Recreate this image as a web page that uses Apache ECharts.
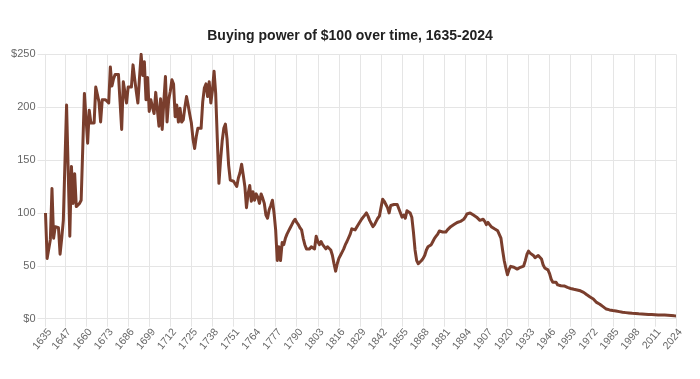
<!DOCTYPE html>
<html>
<head>
<meta charset="utf-8">
<script src="https://cdn.jsdelivr.net/npm/echarts@6/dist/echarts.min.js"></script>
<style>
html,body{margin:0;padding:0;background:#fff;}
#chart{width:700px;height:379px;}
</style>
</head>
<body>
<div id="chart"></div>
<script>
const startYear = 1635;
const endYear = 2024;
const titleText = 'Buying power of $100 over time, 1635-2024';
const yTicks = [0, 50, 100, 150, 200, 250];

const values1635to1704 = [
  100,57,56,75,123,76,87,87,86,61,
  76,93,148,202,140,78,144,109,137,106,
  106,109,112,162,213,190,166,197,185,185,
  185,219,219,205,186,207,207,207,207,204,
  238,220,227,231,232,231,205,179,224,224,
  204,219,219,219,240,227,215,204,228,250,
  230,243,207,228,196,207,200,194,214,213
];
const values1705to1774 = [
  182,208,179,205,229,186,207,215,226,222,
  191,202,186,199,186,188,200,210,202,193,
  185,170,161,172,180,180,180,205,218,222,
  210,224,204,216,234,213,170,128,150,168,
  180,184,170,145,131,130,130,129,125,133,
  138,146,136,125,105,118,126,111,120,112,
  118,115,109,118,114,109,98,95,103,107
];
const values1775to1844 = [
  112,100,84,55,68,55,72,70,76,80,
  83,86,89,92,94,91,89,86,84,76,
  70,66,65,66,68,67,66,78,73,70,
  73,70,71,66,68,67,65,60,52,45,
  52,57,60,63,66,70,73,74,80,85,
  84,84,85,89,90,94,96,98,100,97,
  93,90,87,89,92,95,97,105,113,111
];
const values1845to1914 = [
  108,105,100,107,106,108,108,108,108,100,
  96,98,95,102,101,100,96,82,65,55,
  52,51,55,57,60,65,68,68,70,73,
  76,78,80,83,82,82,82,82,84,85,
  87,88,89,90,91,92,92,93,94,96,
  99,100,100,100,98,97,96,95,93,93,
  94,92,89,91,89,87,86,85,83.9,83.1
];
const values1915to1964 = [
  82.3,76.2,64.9,55.0,48.0,41.6,46.4,49.5,48.6,48.6,
  47.5,46.9,47.8,48.6,48.6,49.8,54.7,60.7,63.9,62.0,
  60.7,59.8,57.7,58.9,59.8,59.4,56.5,51.0,48.0,47.2,
  46.2,42.6,37.3,34.5,34.9,34.5,32.0,31.4,31.1,30.9,
  31.0,30.6,29.6,28.8,28.6,28.1,27.8,27.5,27.2,26.8
];
const values1965to2024 = [
  26.4,25.6,24.9,23.9,22.6,21.4,20.5,19.9,18.7,16.9,
  15.4,14.6,13.7,12.7,11.4,10.1,9.1,8.6,8.3,8.0,
  7.7,7.6,7.3,7.0,6.7,6.4,6.1,5.9,5.75,5.6,
  5.45,5.3,5.18,5.1,4.99,4.83,4.69,4.62,4.52,4.4,
  4.25,4.12,4.01,3.86,3.87,3.81,3.69,3.62,3.57,3.51,
  3.51,3.46,3.39,3.31,3.25,3.21,3.07,2.84,2.73,2.65
];

const years = [];
for (let y = startYear; y <= endYear; y++) years.push(String(y));
const values = [].concat(values1635to1704, values1705to1774, values1775to1844,
  values1845to1914, values1915to1964, values1965to2024);

function showTick(index) {
  const yr = startYear + index;
  return index === 0 || (endYear - yr) % 13 === 0;
}

const gridColor = '#e5e5e5';
const labelColor = '#666';
const fontFamily = '"Liberation Sans", Arial, Helvetica, sans-serif';

const chart = echarts.init(document.getElementById('chart'), null, {renderer: 'canvas'});
chart.setOption({
  animation: false,
  backgroundColor: '#fff',
  title: {
    text: titleText,
    left: 'center',
    top: 29,
    padding: 0,
    textStyle: {fontSize: 14, fontWeight: 'bold', color: '#222', fontFamily: fontFamily}
  },
  grid: {left: 45.5, right: 24, top: 54.3, bottom: 60.3},
  xAxis: {
    type: 'category',
    data: years,
    boundaryGap: false,
    axisLine: {show: true, lineStyle: {color: gridColor, width: 1}},
    axisTick: {show: true, length: 8, interval: showTick, lineStyle: {color: gridColor}},
    splitLine: {show: true, interval: showTick, lineStyle: {color: gridColor, width: 1}},
    axisLabel: {
      interval: showTick,
      rotate: 50,
      margin: 8,
      align: 'right',
      verticalAlign: 'top',
      color: labelColor,
      fontSize: 10.5,
      fontFamily: fontFamily,
      hideOverlap: false
    }
  },
  yAxis: {
    type: 'value',
    min: yTicks[0],
    max: yTicks[yTicks.length - 1],
    interval: 50,
    axisLine: {show: true, lineStyle: {color: gridColor}},
    axisTick: {show: true, length: 8, lineStyle: {color: gridColor}},
    splitLine: {show: true, lineStyle: {color: gridColor}},
    axisLabel: {
      margin: 10,
      color: labelColor,
      fontSize: 11,
      fontFamily: fontFamily,
      formatter: function (v) { return (v === yTicks[0] || v === yTicks[yTicks.length - 1]) ? '$' + v : String(v); }
    }
  },
  series: [{
    type: 'line',
    data: values,
    showSymbol: false,
    symbol: 'none',
    smooth: false,
    lineStyle: {color: '#7a3e2d', width: 3, join: 'round'},
    itemStyle: {color: '#7a3e2d'}
  }]
});
</script>
</body>
</html>
